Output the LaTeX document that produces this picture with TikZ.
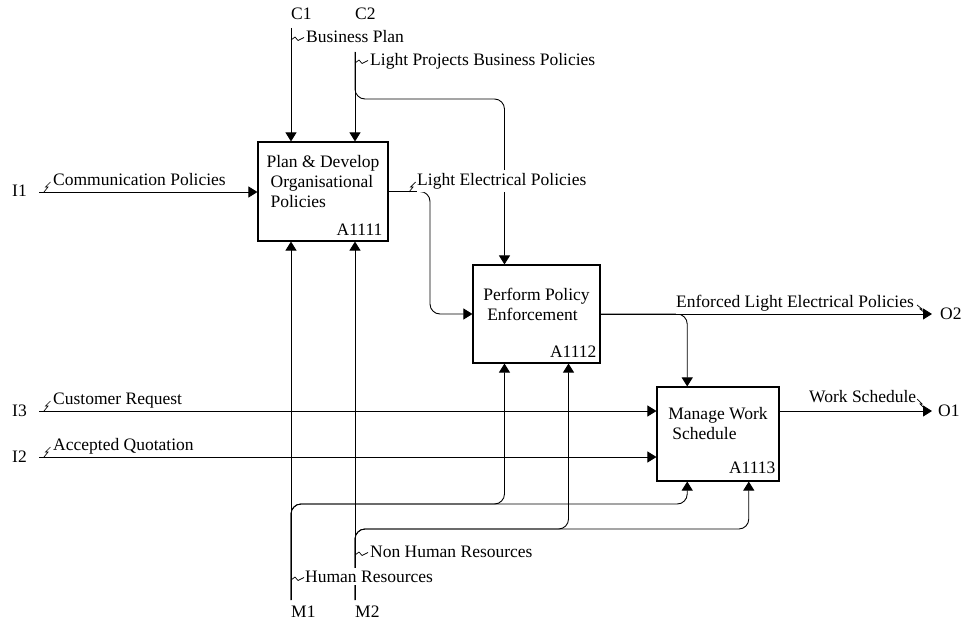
\documentclass[tikz,border=0pt]{standalone}
\usepackage{fontspec}
\setmainfont{Liberation Serif}
\usetikzlibrary{arrows.meta, calc, positioning}

\tikzset{
  activity/.style={draw, line width=1.1pt, inner sep=0pt},
  acttitle/.style={align=left, inner sep=0pt},
  actnum/.style={anchor=base east, inner sep=0pt},
  ext/.style={anchor=base west, inner sep=0pt},
  flowlabel/.style={anchor=base west, fill=white, inner xsep=0pt, inner ysep=3pt},
  flow/.style={line width=0.9pt, rounded corners=10pt, -{Triangle[width=11pt,length=9pt]}},
  squig/.style={line width=0.7pt}
}

\begin{document}
\begin{tikzpicture}
  [x=1pt, y=-1pt, font=\fontsize{17.5}{20}\selectfont]
  \useasboundingbox (0,0) rectangle (966,623);

  % activities
  \node[activity, minimum width=130pt, minimum height=99pt] (a1111) at (323,191.5) {};
  \node[activity, minimum width=127pt, minimum height=98pt] (a1112) at (536.5,314) {};
  \node[activity, minimum width=122pt, minimum height=94pt] (a1113) at (718,434) {};

  \node[acttitle] (t1111) at ([yshift=10pt]a1111.center) {Plan \& Develop\\\hspace*{4pt}Organisational\\\hspace*{4pt}Policies};
  \node[acttitle] (t1112) at ([yshift=10pt]a1112.center) {Perform Policy\\\hspace*{4pt}Enforcement};
  \node[acttitle] (t1113) at ([yshift=10pt]a1113.center) {Manage Work\\\hspace*{4pt}Schedule};

  \node[actnum] (n1111) at ([xshift=-6pt,yshift=6pt]a1111.south east) {A1111};
  \node[actnum] (n1112) at ([xshift=-4pt,yshift=6pt]a1112.south east) {A1112};
  \node[actnum] (n1113) at ([xshift=-4pt,yshift=8pt]a1113.south east) {A1113};

  % docking points at a quarter of each side
  \foreach \b in {a1111,a1112,a1113} {
    \coordinate (\b-t1) at ($(\b.north west)!.25!(\b.north east)$);
    \coordinate (\b-q1) at ($(\b.south west)!.25!(\b.south east)$);
    \coordinate (\b-q3) at ($(\b.south west)!.75!(\b.south east)$);
  }

  % boundary arrows
  \node[ext] (C1) at (291,20) {C1};
  \node[ext] (C2) at (355,20) {C2};
  \node[ext] (I1) at (12,196) {I1};
  \node[ext] (I3) at (12,416) {I3};
  \node[ext] (I2) at (12,462) {I2};
  \node[ext] (O2) at (940,319.5) {O2};
  \node[ext] (O1) at (938,416.5) {O1};
  \node[ext] (M1) at (291,617) {M1};
  \node[ext] (M2) at (355,617) {M2};

  \coordinate (c1) at (291,28);
  \coordinate (c2) at (355,52);
  \coordinate (i1) at (39,192);
  \coordinate (i3) at (39,411);
  \coordinate (i2) at (39,457);
  \coordinate (o2) at (932,314);
  \coordinate (o1) at (932,411);
  \coordinate (m1) at (291,600);
  \coordinate (m2) at (355,600);

  % bends
  \coordinate (k1) at (430,99);
  \coordinate (k2) at (430,250);
  \coordinate (k3) at (400,504);
  \coordinate (k4) at (450,529);

  % controls
  \draw[flow] (c1) -- (c1 |- a1111.north);
  \draw[flow] (c2) -- (c2 |- a1111.north);
  \draw[flow] (c2) |- (k1) -| (a1112-t1);

  % inputs
  \draw[flow] (i1) -- (i1 -| a1111.west);
  \draw[flow] (i3) -- (i3 -| a1113.west);
  \draw[flow] (i2) -- (i2 -| a1113.west);

  % outputs
  \draw[flow] (a1111.east) -| (k2) |- (a1112.west);
  \draw[flow] (a1112.east) -- (o2);
  \draw[flow] (a1112.east) -| (a1113-t1);
  \draw[flow] (o1 -| a1113.east) -- (o1);

  % mechanisms
  \draw[flow] (m1) -- (m1 |- a1111.south);
  \draw[flow] (m2) -- (m2 |- a1111.south);
  \draw[flow] (m1) |- (k3) -| (a1112-q1);
  \draw[flow] (m1) |- (k3) -| (a1113-q1);
  \draw[flow] (m2) |- (k4) -| (a1112-q3);
  \draw[flow] (m2) |- (k4) -| (a1113-q3);

  % arrow labels
  \node[flowlabel] (l1) at (53,185) {Communication Policies};
  \node[flowlabel] (l2) at (53,404) {Customer Request};
  \node[flowlabel] (l3) at (53,450) {Accepted Quotation};
  \node[flowlabel] (l4) at (306,43) {Business Plan};
  \node[flowlabel] (l5) at (370,66) {Light Projects Business Policies};
  \node[flowlabel] (l6) at (417,185) {Light Electrical Policies};
  \node[flowlabel] (l7) at (676,307) {Enforced Light Electrical Policies};
  \node[flowlabel] (l8) at (809,402) {Work Schedule};
  \node[flowlabel] (l9) at (370,557) {Non Human Resources};
  \node[flowlabel] (l10) at (305,582) {Human Resources};

  % squiggles
  \draw[squig] (44,192) -- ++(4,-5) -- ++(-2.5,0) -- ++(5,-5);
  \draw[squig] (44,411) -- ++(4,-5) -- ++(-2.5,0) -- ++(5,-5);
  \draw[squig] (44,457) -- ++(4,-5) -- ++(-2.5,0) -- ++(5,-5);
  \draw[squig] (409,192) -- ++(4,-5) -- ++(-2.5,0) -- ++(5,-5);
  \draw[squig] (291,40) -- ++(4,-3) -- ++(3,3.5) -- ++(6,-3);
  \draw[squig] (355,63) -- ++(4,-3) -- ++(3,3.5) -- ++(6,-3);
  \draw[squig] (355,555) -- ++(4,-3) -- ++(3,3.5) -- ++(6,-3);
  \draw[squig] (291,580) -- ++(4,-3) -- ++(3,3.5) -- ++(6,-3);
  \draw[squig] (917,305) -- ++(5,4) -- ++(-2,0) -- ++(5,4);
  \draw[squig] (917,399) -- ++(5,5) -- ++(-2,0) -- ++(5,5);
\end{tikzpicture}
\end{document}
